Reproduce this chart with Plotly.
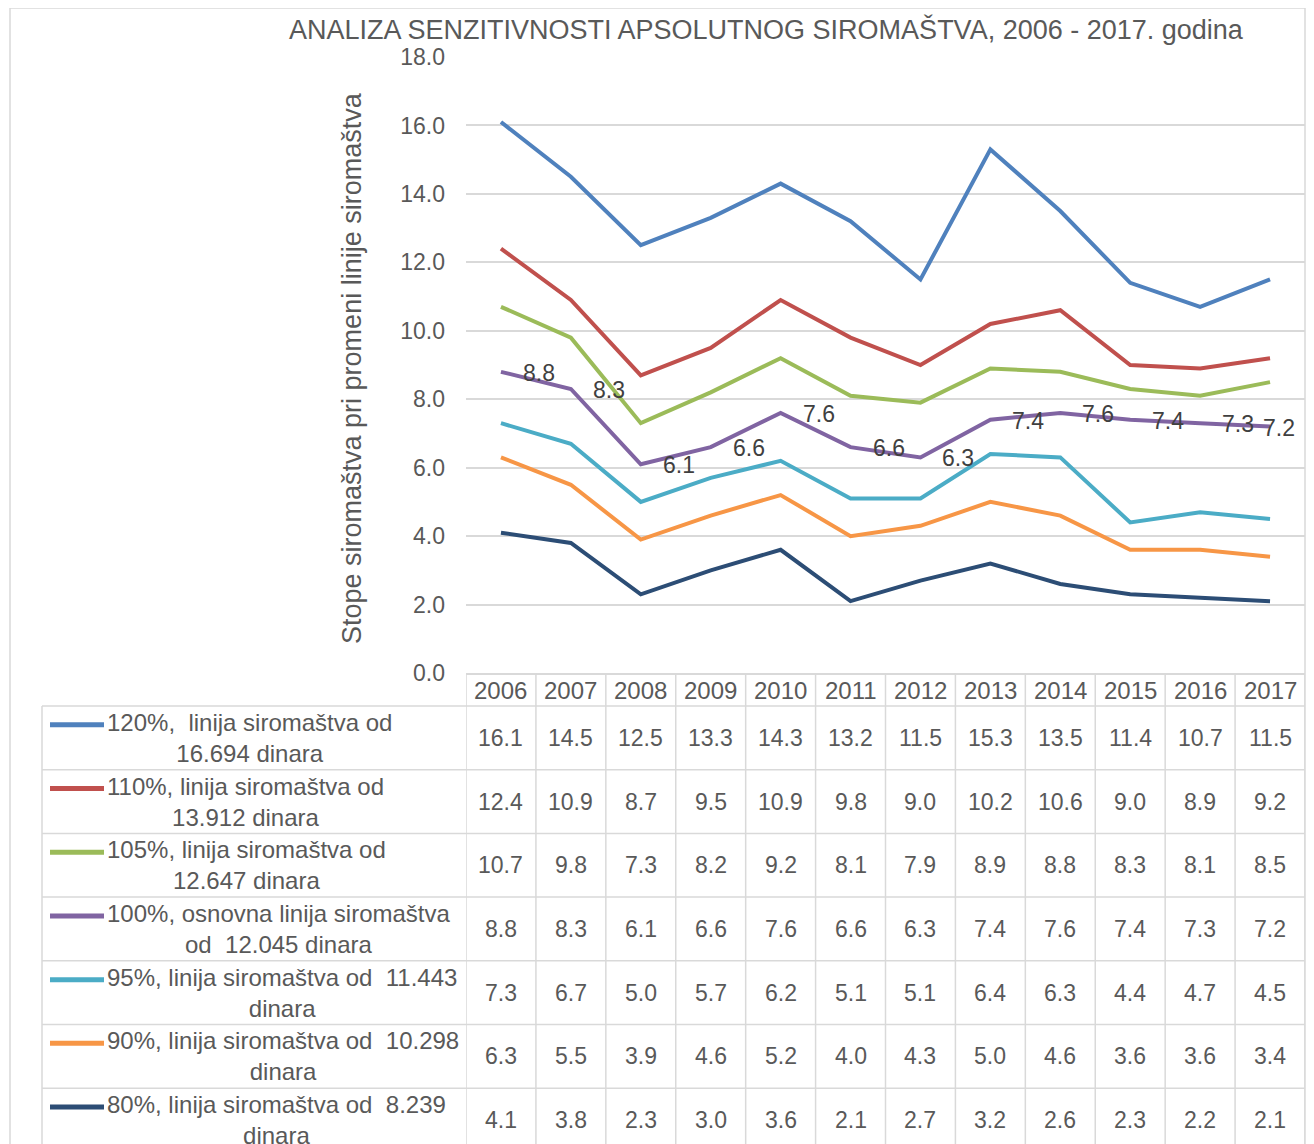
import plotly.graph_objects as go

# page body has an 8px margin: the figure is drawn at (8, 8) in the window
OFF = 8
W, H = 1314 - OFF, 1144 - OFF

years = ["2006", "2007", "2008", "2009", "2010", "2011",
         "2012", "2013", "2014", "2015", "2016", "2017"]

names = [
    "120%,  linija siromaštva od<br>16.694 dinara",
    "110%, linija siromaštva od<br>13.912 dinara",
    "105%, linija siromaštva od<br>12.647 dinara",
    "100%, osnovna linija siromaštva<br>od  12.045 dinara",
    "95%, linija siromaštva od  11.443<br>dinara",
    "90%, linija siromaštva od  10.298<br>dinara",
    "80%, linija siromaštva od  8.239<br>dinara",
]

s120 = [16.1, 14.5, 12.5, 13.3, 14.3, 13.2, 11.5, 15.3, 13.5, 11.4, 10.7, 11.5]
s110 = [12.4, 10.9, 8.7, 9.5, 10.9, 9.8, 9.0, 10.2, 10.6, 9.0, 8.9, 9.2]
s105 = [10.7, 9.8, 7.3, 8.2, 9.2, 8.1, 7.9, 8.9, 8.8, 8.3, 8.1, 8.5]
s100 = [8.8, 8.3, 6.1, 6.6, 7.6, 6.6, 6.3, 7.4, 7.6, 7.4, 7.3, 7.2]
s95 = [7.3, 6.7, 5.0, 5.7, 6.2, 5.1, 5.1, 6.4, 6.3, 4.4, 4.7, 4.5]
s90 = [6.3, 5.5, 3.9, 4.6, 5.2, 4.0, 4.3, 5.0, 4.6, 3.6, 3.6, 3.4]
s80 = [4.1, 3.8, 2.3, 3.0, 3.6, 2.1, 2.7, 3.2, 2.6, 2.3, 2.2, 2.1]

series = [s120, s110, s105, s100, s95, s90, s80]
colors = ["#4F81BD", "#C0504D", "#9BBB59", "#8064A2", "#4BACC6", "#F79646", "#2C4D75"]

title = "ANALIZA SENZITIVNOSTI APSOLUTNOG SIROMAŠTVA, 2006 - 2017. godina"
ytitle = "Stope siromaštva pri promeni linije siromaštva"

FONT = "Arial, Liberation Sans, sans-serif"
GRID = "#D9D9D9"
TXT = "#595959"
DARK = "#404040"


def px_x(p):
    return (p - OFF) / W


def px_y(p):
    return 1 - (p - OFF) / H


# layout geometry (window pixels)
plot_l, plot_r = 466, 1305
plot_t, plot_b = 57, 673
header_b = 706
row_h = (1151.9 - header_b) / 7
legend_l = 42
bottom = 1144 + 10

n = len(years)
xi = list(range(n))  # category positions on the axis

fig = go.Figure()
for vals, nm, col in zip(series, names, colors):
    fig.add_trace(go.Scatter(x=xi, y=vals, mode="lines", name=nm.replace("<br>", " "),
                             line=dict(color=col, width=4), showlegend=False,
                             text=years, hovertemplate="%{text}: %{y:.1f}<extra></extra>"))

ann = []
shapes = []

# title
ann.append(dict(text=title, x=px_x(766), y=px_y(29), xref="paper", yref="paper",
                showarrow=False, xanchor="center", yanchor="middle",
                font=dict(size=27, color=TXT, family=FONT)))
# y title
ann.append(dict(text=ytitle, x=px_x(352), y=px_y(368), xref="paper", yref="paper",
                showarrow=False, textangle=-90, xanchor="center", yanchor="middle",
                font=dict(size=27, color=TXT, family=FONT)))

# data labels on the base (100%) series
for i, v in enumerate(s100):
    ann.append(dict(text=f"{v:.1f}", x=xi[i], y=v, xref="x", yref="y", showarrow=False,
                    xanchor="center", yanchor="middle", xshift=(38 if i < n - 1 else 9),
                    yshift=-1, font=dict(size=23, color=DARK, family=FONT)))

# header years
for i, yr in enumerate(years):
    ann.append(dict(text=yr, x=xi[i], y=px_y((plot_b + header_b) / 2 + 0.5), xref="x", yref="paper",
                    showarrow=False, xanchor="center", yanchor="middle",
                    font=dict(size=24, color=TXT, family=FONT)))

# table rows
for r, (vals, nm, col) in enumerate(zip(series, names, colors)):
    top = header_b + r * row_h
    cy = top + row_h / 2
    for i, v in enumerate(vals):
        ann.append(dict(text=f"{v:.1f}", x=xi[i], y=px_y(cy), xref="x", yref="paper",
                        showarrow=False, xanchor="center", yanchor="middle",
                        font=dict(size=23, color=TXT, family=FONT)))
    ann.append(dict(text=nm, x=px_x(105), y=px_y(cy), xref="paper", yref="paper",
                    showarrow=False, xanchor="left", yanchor="middle", align="center",
                    font=dict(size=24, color=TXT, family=FONT)))
    shapes.append(dict(type="line", xref="paper", yref="paper",
                       x0=px_x(50), x1=px_x(104), y0=px_y(cy - 13), y1=px_y(cy - 13),
                       line=dict(color=col, width=5)))
    # horizontal row border (top)
    shapes.append(dict(type="line", xref="paper", yref="paper",
                       x0=px_x(legend_l), x1=px_x(plot_r), y0=px_y(top), y1=px_y(top),
                       line=dict(color=GRID, width=1.5)))

# vertical table lines
for k in range(n + 1):
    shapes.append(dict(type="line", xref="x", yref="paper", x0=k - 0.5, x1=k - 0.5,
                       y0=px_y(plot_b), y1=px_y(bottom), line=dict(color=GRID, width=1.5)))
# legend column left border
shapes.append(dict(type="line", xref="paper", yref="paper", x0=px_x(legend_l), x1=px_x(legend_l),
                   y0=px_y(header_b), y1=px_y(bottom), line=dict(color=GRID, width=1.5)))
# outer chart frame
shapes.append(dict(type="rect", xref="paper", yref="paper", x0=px_x(10), x1=px_x(1305),
                   y0=px_y(bottom), y1=px_y(8), line=dict(color=GRID, width=1.5),
                   fillcolor="rgba(0,0,0,0)", layer="below"))

fig.update_layout(
    width=W, height=H,
    margin=dict(l=0, r=0, t=0, b=0, autoexpand=False),
    paper_bgcolor="white", plot_bgcolor="white",
    font=dict(family=FONT, color=TXT),
    annotations=ann, shapes=shapes,
    xaxis=dict(domain=[px_x(plot_l), px_x(plot_r)], range=[-0.5, n - 0.5],
               showgrid=False, showticklabels=False, ticks="", automargin=False,
               showline=True, linecolor=GRID, linewidth=1.5, zeroline=False, fixedrange=True),
    yaxis=dict(domain=[px_y(plot_b), px_y(plot_t)], range=[0, 18], dtick=2,
               tickformat=".1f", showgrid=True, gridcolor=GRID, gridwidth=1.5,
               zeroline=False, showline=False, ticks="", ticklabelstandoff=20, automargin=False,
               tickfont=dict(size=23, color=TXT, family=FONT), fixedrange=True),
    showlegend=False,
)

fig.write_html("out.html")
